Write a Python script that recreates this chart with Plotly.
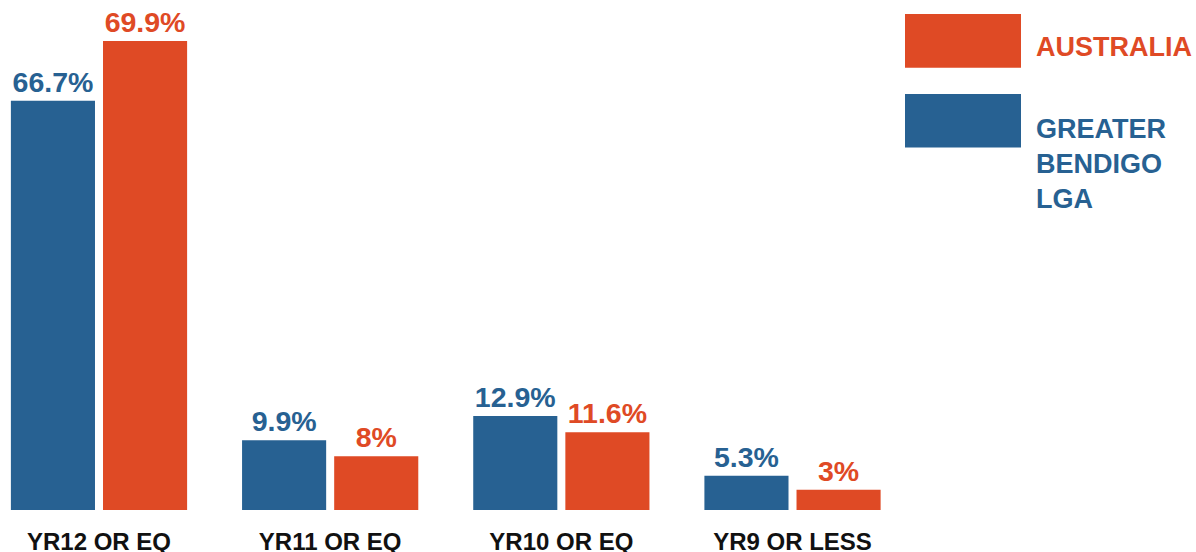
import plotly.graph_objects as go

categories = ["YR12 OR EQ", "YR11 OR EQ", "YR10 OR EQ", "YR9 OR LESS"]
# bar heights as drawn in the picture (%)
bendigo_values = [61.0, 10.4, 14.0, 5.1]
australia_values = [69.9, 8.0, 11.6, 3.0]
# printed labels
bendigo_labels = ["66.7%", "9.9%", "12.9%", "5.3%"]
australia_labels = ["69.9%", "8%", "11.6%", "3%"]

BLUE = "#276192"
ORANGE = "#DF4A25"
FONT = "Liberation Sans, Arial, Helvetica, sans-serif"

W, H = 1196, 552
BASE = 510.5          # pixel of bar baseline
SCALE = 6.715         # pixels per percent
PLOT_H = BASE

fig = go.Figure()
fig.add_trace(go.Bar(
    x=categories, y=bendigo_values, name="GREATER BENDIGO LGA",
    marker=dict(color=BLUE, line=dict(width=0)),
    text=bendigo_labels, textposition="outside",
    textfont=dict(family=FONT, size=28.5, color=BLUE, weight="bold"),
    cliponaxis=False, hoverinfo="skip",
))
fig.add_trace(go.Bar(
    x=categories, y=australia_values, name="AUSTRALIA",
    marker=dict(color=ORANGE, line=dict(width=0)),
    text=australia_labels, textposition="outside",
    textfont=dict(family=FONT, size=28.5, color=ORANGE, weight="bold"),
    cliponaxis=False, hoverinfo="skip",
))

def px_x(p):
    return p / W

def px_y(p):
    return (BASE - p) / PLOT_H

shapes = [
    dict(type="rect", xref="paper", yref="paper",
         x0=px_x(905), x1=px_x(1021), y0=px_y(67.7), y1=px_y(14),
         fillcolor=ORANGE, line=dict(width=0)),
    dict(type="rect", xref="paper", yref="paper",
         x0=px_x(905), x1=px_x(1021), y0=px_y(147.7), y1=px_y(94),
         fillcolor=BLUE, line=dict(width=0)),
]
annotations = [
    dict(xref="paper", yref="paper", x=px_x(1033.5), y=px_y(46.7),
         xanchor="left", yanchor="middle", showarrow=False, align="left",
         text="<b>AUSTRALIA</b>", font=dict(family=FONT, size=27, color=ORANGE)),
    dict(xref="paper", yref="paper", x=px_x(1033.5), y=px_y(164.5),
         xanchor="left", yanchor="middle", showarrow=False, align="left",
         text="<b>GREATER<br>BENDIGO<br>LGA</b>", font=dict(family=FONT, size=27, color=BLUE)),
]

x0 = (0 - 99) / 231.17
x1 = (W - 99) / 231.17

fig.update_layout(
    template="none",
    width=W, height=H,
    margin=dict(l=0, r=0, t=0, b=H - PLOT_H, pad=0),
    paper_bgcolor="white", plot_bgcolor="white",
    barmode="group", bargap=0.203, bargroupgap=0.087,
    showlegend=False,
    xaxis=dict(range=[x0, x1], showgrid=False, zeroline=False, automargin=False,
               showline=False, ticks="",
               tickfont=dict(family=FONT, size=24, color="#111111", weight="bold"),
               ticklabelstandoff=15),
    yaxis=dict(range=[0, PLOT_H / SCALE], visible=False, showgrid=False,
               zeroline=False, automargin=False),
    shapes=shapes, annotations=annotations,
)

fig.write_html(
    "out.html",
    config={"displayModeBar": False},
    post_script="document.body.style.margin='0';document.documentElement.style.overflow='hidden';document.body.style.overflow='hidden';",
)
